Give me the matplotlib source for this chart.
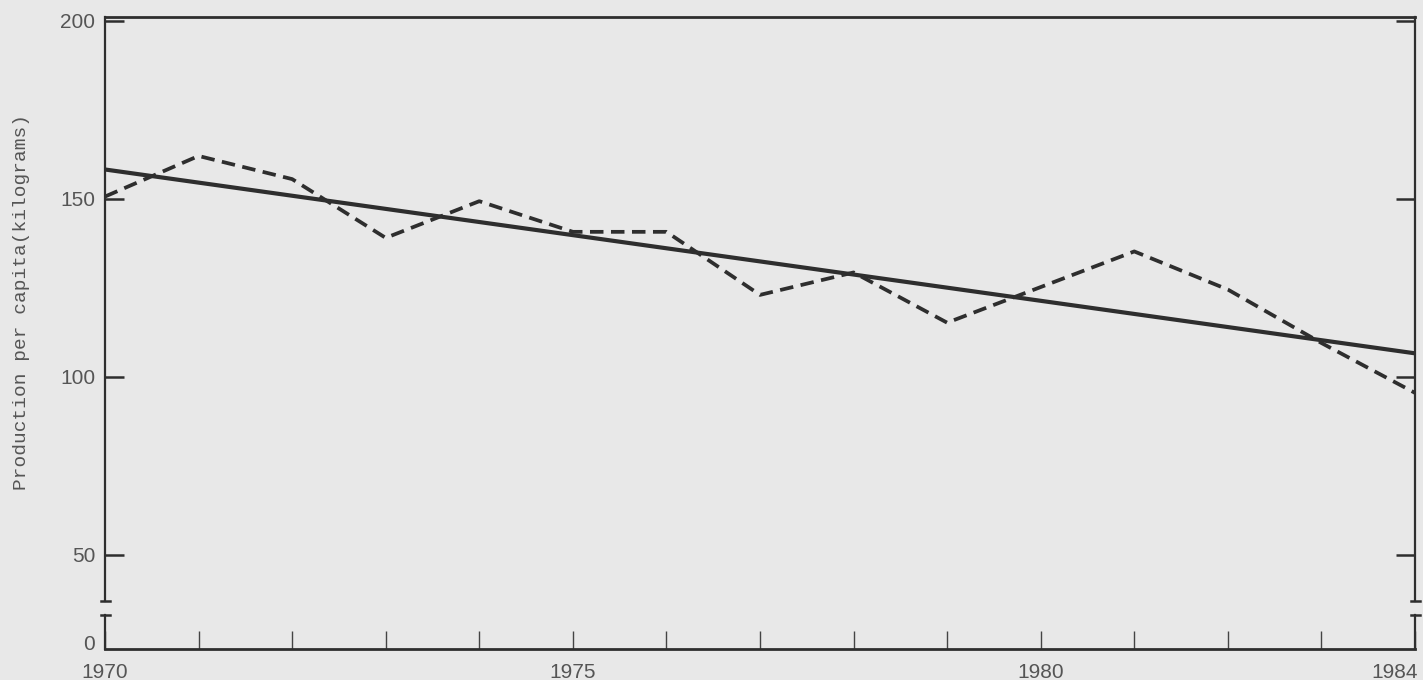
import numpy as np
import matplotlib
matplotlib.use("Agg")
import matplotlib.pyplot as plt
import matplotlib.transforms as mtransforms

# ---- data ----
years = [1970, 1971, 1972, 1973, 1974, 1975, 1976, 1977, 1978, 1979, 1980, 1981, 1982, 1983, 1984]
production = [150.6, 162.0, 155.5, 139.0, 149.3, 140.7, 140.7, 123.0, 129.3, 115.2, 125.2, 135.2, 124.5, 109.5, 95.5]
trend_years = [1970, 1984]
trend_values = [158.2, 106.6]
xtick_labels = ["1970", "", "", "", "", "1975", "", "", "", "", "1980", "", "", "", "1984"]
yticks = [0, 50, 100, 150, 200]
ytick_labels = ["0", "50", "100", "150", "200"]
ylabel = "Production per capita(kilograms)"

BG = "#e8e8e8"
INK = "#2e2e2e"
TXT = "#555555"
FONT = "Liberation Sans"

# broken-axis scale: linear above B, compressed below
B = 33.0
K = 0.233
YMIN, YMAX = -7.3, 201.0


def fwd(v):
    v = np.asarray(v, dtype=float)
    return np.where(v >= B, v, B - (B - v) * K)


def inv(u):
    u = np.asarray(u, dtype=float)
    return np.where(u >= B, u, B - (B - u) / K)


fig = plt.figure(figsize=(14.23, 6.80), dpi=100, facecolor=BG)
ax = fig.add_axes([105 / 1423, 1 - 649 / 680, (1415 - 105) / 1423, (649 - 17) / 680])
ax.set_facecolor(BG)
ax.set_yscale("function", functions=(fwd, inv))
ax.set_xlim(1970, 1984)
ax.set_ylim(YMIN, YMAX)

ax.plot(trend_years, trend_values, color=INK, lw=3.0, solid_capstyle="butt", zorder=3)
ax.plot(years, production, color=INK, lw=2.7, linestyle=(0, (3.6, 2.0)), zorder=3)

# spines
for s in ["left", "right"]:
    ax.spines[s].set_visible(False)
ax.spines["top"].set_color(INK)
ax.spines["top"].set_linewidth(2.0)
ax.spines["bottom"].set_color(INK)
ax.spines["bottom"].set_linewidth(2.0)

ytr = ax.get_yaxis_transform()
gap_lo, gap_hi = 33.2, 37.1
for xs in [0, 1]:
    ax.plot([xs, xs], [YMIN, gap_lo], transform=ytr, color=INK, lw=1.6, clip_on=False, zorder=4)
    ax.plot([xs, xs], [gap_hi, YMAX], transform=ytr, color=INK, lw=1.6, clip_on=False, zorder=4)
    for yv in [gap_lo, gap_hi]:
        ax.plot([xs - 0.003, xs + 0.004], [yv, yv], transform=ytr, color=INK, lw=1.8,
                clip_on=False, zorder=4)

# ticks
ax.set_xticks(years)
ax.set_xticklabels(xtick_labels, fontsize=15, color=TXT, family=FONT)
ax.tick_params(axis="x", direction="in", length=13, width=1.0, color="#444444", pad=10)
lbls = ax.get_xticklabels()
lbls[-1].set_horizontalalignment("right")
lbls[-1].set_transform(lbls[-1].get_transform() + mtransforms.ScaledTranslation(3 / 100, 0, fig.dpi_scale_trans))

ax.set_yticks(yticks)
ax.set_yticklabels(ytick_labels, fontsize=15, color=TXT, family=FONT)
ax.tick_params(axis="y", direction="in", length=14, width=1.8, color=INK, pad=7,
               left=True, right=True)
ax.yaxis.get_major_ticks()[0].tick1line.set_visible(False)
ax.yaxis.get_major_ticks()[0].tick2line.set_visible(False)
ax.minorticks_off()

fig.text(22 / 1423, 1 - 302 / 680, ylabel, rotation=90, ha="center", va="center",
         fontsize=14, color=TXT, family="Liberation Mono")

fig.savefig("out.png", dpi=100, facecolor=BG)
